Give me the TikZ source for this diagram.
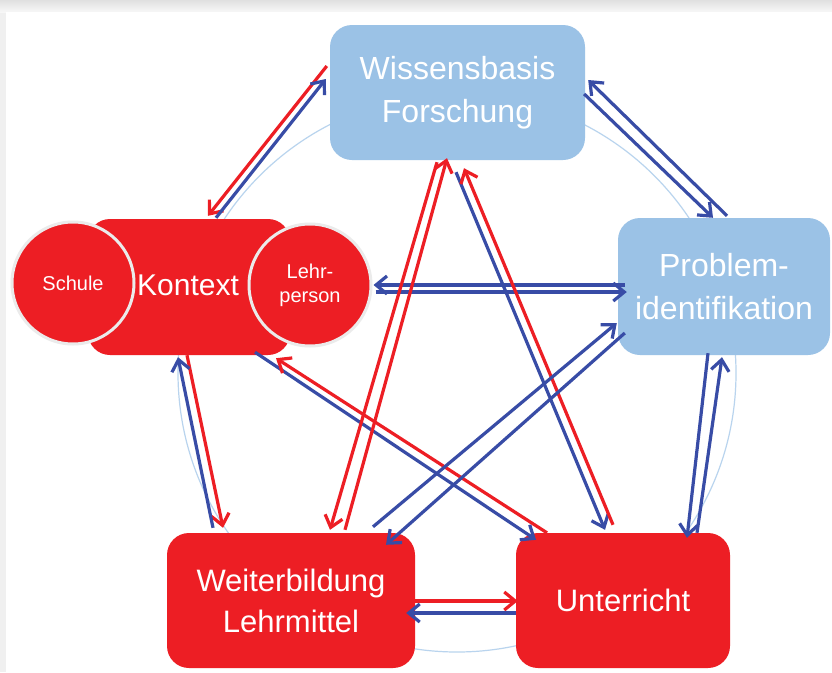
\documentclass[tikz,border=0pt]{standalone}
\usepackage{fontspec}
\setmainfont{Liberation Sans}
\usetikzlibrary{arrows.meta}
\definecolor{boxred}{RGB}{237,30,36}
\definecolor{boxblue}{RGB}{155,194,230}
\definecolor{arrblue}{RGB}{56,76,166}
\definecolor{ringblue}{RGB}{185,212,238}
\begin{document}
\begin{tikzpicture}[x=1pt,y=-1pt,
    bluebox/.style={fill=boxblue,rounded corners=22pt,text=white,align=center,inner sep=0pt,font=\fontsize{32}{43}\selectfont},
    redbox/.style={fill=boxred,rounded corners=22pt,text=white,align=center,inner sep=0pt,font=\fontsize{31}{41}\selectfont},
    ctxcircle/.style={circle,fill=boxred,draw=white!92!black,line width=3pt,minimum size=122pt,inner sep=0pt,text=white,align=center,font=\fontsize{20}{24}\selectfont},
    redarr/.style={draw=boxred,line width=3.2pt,-{Straight Barb[length=11pt,width=18pt]}},
    bluearr/.style={draw=arrblue,line width=3.2pt,-{Straight Barb[length=11pt,width=18pt]}}]
    \useasboundingbox (0,0) rectangle (832,672);
    % background card
    \fill[black!6] (0,0) rectangle (832,672);
    \shade[top color=black!12,bottom color=black!3] (0,0) rectangle (832,12);
    \fill[white] (6,12) rectangle (832,672);
    \draw[ringblue,line width=1.2pt] (457,373) circle[radius=279];
    % boxes
    \node[bluebox,minimum width=255pt,minimum height=135pt] (wiss) at (457.5,92.5) {Wissensbasis\\Forschung};
    \node[bluebox,minimum width=212pt,minimum height=137pt] (prob) at (724,286.5) {Problem-\\identifikation};
    \node[redbox,minimum width=202pt,minimum height=136pt,font=\fontsize{30}{36}\selectfont] (kont) at (189,287) {};
    \node[ctxcircle] (schule) at (73,283) {Schule};
    \node[ctxcircle] (lehr) at (310,285) {Lehr-\\person};
    \node[text=white,font=\fontsize{30}{36}\selectfont] (kontlabel) at (188,285) {Kontext};
    \node[redbox,minimum width=248pt,minimum height=135pt] (weit) at (291,600.5) {Weiterbildung\\Lehrmittel};
    \node[redbox,minimum width=214pt,minimum height=135pt] (unt) at (623,600.5) {Unterricht};
    % arrows
    \draw[redarr] ([shift={(-3,-26.5)}]wiss.west) -- ([shift={(19,-3)}]kont.north);
    \draw[bluearr] ([shift={(27,-1)}]kont.north) -- ([shift={(-4,-13.5)}]wiss.west);
    \draw[bluearr] ([shift={(3,-2)}]prob.north) -- ([shift={(3,-12.5)}]wiss.east);
    \draw[bluearr] ([shift={(-1,1.5)}]wiss.east) -- ([shift={(-11,0)}]prob.north);
    \draw[bluearr] ([shift={(7,-1.5)}]prob.west) -- ([shift={(1,0)}]lehr.east);
    \draw[bluearr] ([shift={(3,7)}]lehr.east) -- ([shift={(9,5.5)}]prob.west);
    \draw[redarr] ([shift={(-2,0)}]kont.south) -- ([shift={(-68,-5)}]weit.north);
    \draw[bluearr] ([shift={(-78,-5)}]weit.north) -- ([shift={(-11,2)}]kont.south);
    \draw[bluearr] ([shift={(66,-3)}]kont.south) -- ([shift={(-87,7)}]unt.north);
    \draw[redarr] ([shift={(-76,0)}]unt.north) -- ([shift={(87,3)}]kont.south);
    \draw[redarr] ([shift={(54,-3)}]weit.north) -- ([shift={(-10.5,-2)}]wiss.south);
    \draw[redarr] ([shift={(-20.5,2)}]wiss.south) -- ([shift={(39,-3)}]weit.north);
    \draw[bluearr] ([shift={(-1.5,12)}]wiss.south) -- ([shift={(-18,-3)}]unt.north);
    \draw[redarr] ([shift={(-10,-8)}]unt.north) -- ([shift={(6.5,8)}]wiss.south);
    \draw[bluearr] ([shift={(82,-6)}]weit.north) -- ([shift={(-1,36.5)}]prob.west);
    \draw[bluearr] ([shift={(7,46.5)}]prob.west) -- ([shift={(95,12)}]weit.north);
    \draw[bluearr] ([shift={(-16,-2)}]prob.south) -- ([shift={(64,5)}]unt.north);
    \draw[bluearr] ([shift={(74,0)}]unt.north) -- ([shift={(-2,2)}]prob.south);
    \draw[redarr] ([shift={(0,0.5)}]weit.east) -- ([shift={(2,0.5)}]unt.west);
    \draw[bluearr] ([shift={(0,12.5)}]unt.west) -- ([shift={(-9,12.5)}]weit.east);
\end{tikzpicture}
\end{document}
